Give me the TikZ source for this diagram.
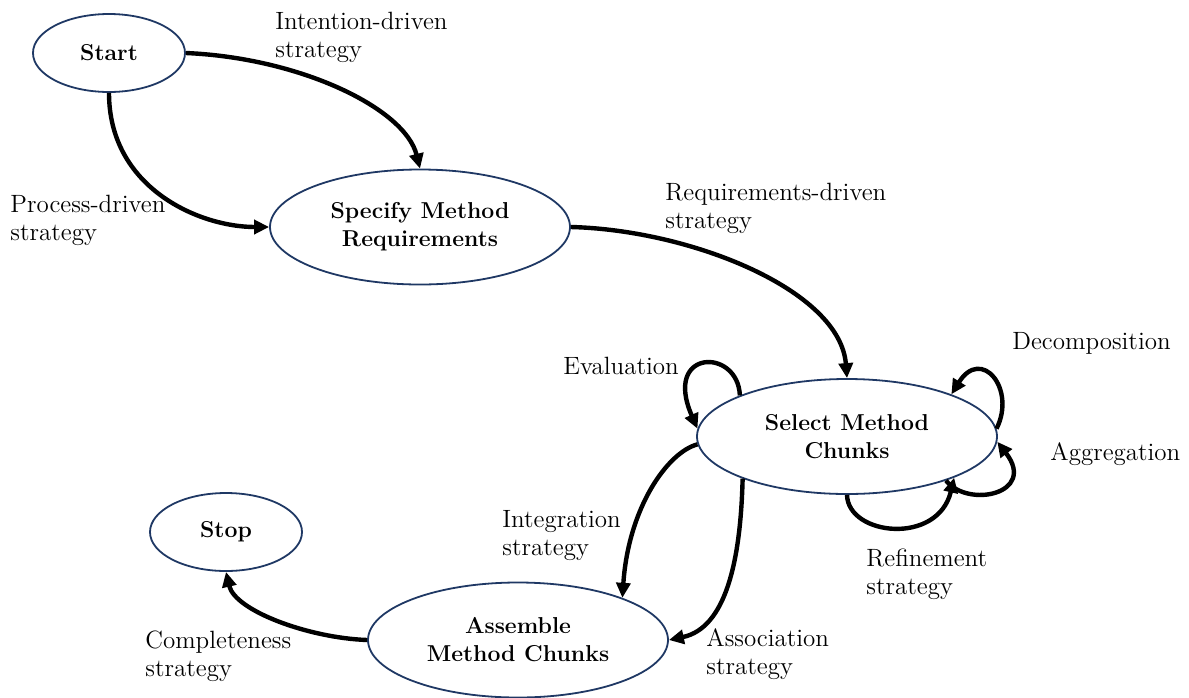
\documentclass[tikz,border=0pt]{standalone}
\usetikzlibrary{shapes.geometric,arrows.meta}
\definecolor{rim}{RGB}{31,56,100}
\begin{document}
\begin{tikzpicture}[x=0.5pt,y=-0.5pt,
  state/.style={ellipse,draw=rim,line width=0.9pt,inner sep=0pt,align=center,
    font=\fontsize{11.5}{14}\selectfont\bfseries},
  bigstate/.style={state,minimum width=150pt,minimum height=57.5pt},
  smallstate/.style={state,minimum width=76pt,minimum height=39pt},
  flow/.style={line width=2.2pt,-{Triangle[length=7.5pt,width=7pt]}},
  lbl/.style={anchor=north west,inner sep=0pt,align=left,
    font=\fontsize{12.5}{14}\selectfont}]
\useasboundingbox (0,0) rectangle (1189,697);

% intentions
\node[smallstate] (st)   at (109,53)  {Start};
\node[bigstate]   (sp)   at (420,227) {Specify Method\\Requirements};
\node[bigstate]   (sel)  at (847,436.5) {Select Method\\Chunks};
\node[smallstate] (stop) at (226,532) {Stop};
\node[bigstate]   (asm)  at (518,640) {Assemble\\Method Chunks};

% strategies
\draw[flow] (st.east) .. controls +(115,5) and +(-15,-60) .. (sp.north);
\draw[flow] (st.south) .. controls +(0,95) and +(-70,0) .. (sp.west);
\draw[flow] (sp.east) .. controls +(120,3) and +(-7,-88) .. (sel.north);
\draw[flow] (sel.159) .. controls +(-2,-48) and +(-35,-80) .. (sel.177);
\draw[flow] (sel.3) .. controls +(20,-40) and +(30,-48) .. (sel.22);
\draw[flow] (sel.-24) .. controls +(22,28) and +(40,52) .. (sel.-2);
\draw[flow] (sel.south) .. controls +(1,41) and +(-16,68) .. (sel.-21);
\draw[flow] (sel.183) .. controls +(-30,8) and +(6,-90) .. (asm.22);
\draw[flow] (sel.-158) .. controls +(-2,82) and +(57,-12) .. (asm.east);
\draw[flow] (asm.west) .. controls +(-58,-2) and +(9,39) .. (stop.south);

% strategy labels
\node[lbl] (l1)  at (275,12)  {Intention-driven\\strategy};
\node[lbl] (l2)  at (10,195)  {Process-driven\\strategy};
\node[lbl] (l3)  at (665,183) {Requirements-driven\\strategy};
\node[lbl] (l4)  at (1012,332) {Decomposition};
\node[lbl] (l5)  at (563,357) {Evaluation};
\node[lbl] (l6)  at (1050,442) {Aggregation};
\node[lbl] (l7)  at (502,510) {Integration\\strategy};
\node[lbl] (l8)  at (866,548) {Refinement\\strategy};
\node[lbl] (l9)  at (145,630) {Completeness\\strategy};
\node[lbl] (l10) at (706,628) {Association\\strategy};
\end{tikzpicture}
\end{document}
